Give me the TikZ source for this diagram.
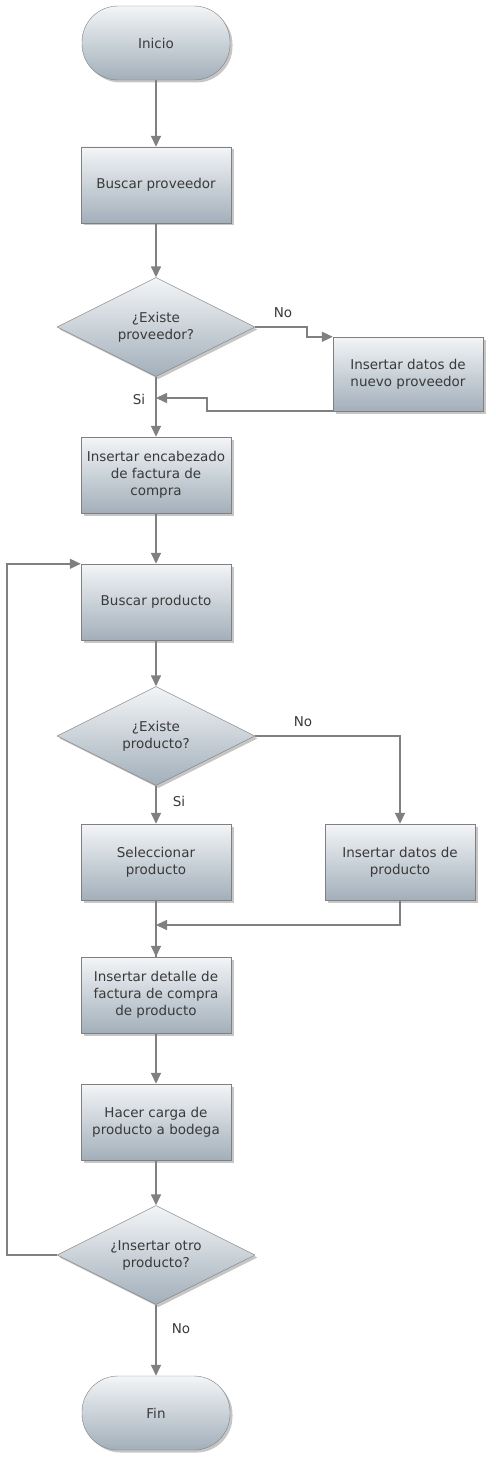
\documentclass[tikz,border=0pt]{standalone}
\usepackage{fontspec}
\setmainfont{DejaVu Sans}
\usetikzlibrary{shapes.geometric,arrows.meta,shadows}

\definecolor{topfill}{HTML}{F3F5F7}
\definecolor{botfill}{HTML}{A2AFBA}
\definecolor{edgegray}{HTML}{808080}
\definecolor{txtgray}{HTML}{3A3A3A}

\tikzstyle{base} = [draw=edgegray, thin, top color=topfill, bottom color=botfill,
    text=txtgray, align=center, font=\fontsize{13.5}{17}\selectfont,
    drop shadow={shadow xshift=2.5pt, shadow yshift=-2.5pt, opacity=0.45, fill=gray}]
\tikzstyle{term} = [base, rectangle, rounded corners=36pt, minimum width=148pt, minimum height=74pt]
\tikzstyle{proc} = [base, rectangle, minimum width=150pt, minimum height=76pt]
\tikzstyle{decide} = [base, diamond, aspect=2, inner sep=0pt, minimum width=198pt, minimum height=99pt]
\tikzstyle{line} = [draw=edgegray, line width=1.5pt, -{Triangle[length=11pt,width=10pt]}]
\tikzstyle{tag} = [text=txtgray, font=\fontsize{13.5}{17}\selectfont]

\begin{document}
\begin{tikzpicture}[x=1pt, y=-1pt]
\useasboundingbox (0,0) rectangle (495,1463);

% supplier part
\node[term] (inicio) at (156,43) {Inicio};
\node[proc] (buscarprov) at (156,185) {Buscar proveedor};
\node[decide] (existeprov) at (156,327) {¿Existe\\proveedor?};
\node[proc, minimum height=74pt] (nuevoprov) at (408,374) {Insertar datos de\\nuevo proveedor};
\node[proc] (encabezado) at (156,475) {Insertar encabezado\\de factura de\\compra};

% product part
\node[proc] (buscarprod) at (156,602) {Buscar producto};
\node[decide] (existeprod) at (156,736) {¿Existe\\producto?};
\node[proc] (seleccionar) at (156,862) {Seleccionar\\producto};
\node[proc] (datosprod) at (400,862) {Insertar datos de\\producto};
\node[proc] (detalle) at (156,995) {Insertar detalle de\\factura de compra\\de producto};
\node[proc] (carga) at (156,1122) {Hacer carga de\\producto a bodega};
\node[decide] (otro) at (156,1255) {¿Insertar otro\\producto?};
\node[term] (fin) at (156,1413) {Fin};

\coordinate (siprov) at (156,398);
\coordinate (juntar) at (156,925);

% connectors
\draw[line] (inicio) -- (buscarprov);
\draw[line] (buscarprov) -- (existeprov);
\draw[line] (existeprov.east) -- ++(52,0) |- (nuevoprov.north west);
\draw[line] (nuevoprov.south west) -- ++(-126,0) |- (siprov);
\draw[line] (existeprov) -- (encabezado);
\draw[line] (encabezado) -- (buscarprod);
\draw[line] (buscarprod) -- (existeprod);
\draw[line] (existeprod.east) -| (datosprod.north);
\draw[line] (existeprod) -- (seleccionar);
\draw[draw=edgegray, line width=1.5pt] (seleccionar) -- (detalle);
\draw[line] (juntar) -- (detalle);
\draw[line] (datosprod.south) |- (juntar);
\draw[line] (detalle) -- (carga);
\draw[line] (carga) -- (otro);
\draw[line] (otro.west) -- (7,1255) |- (buscarprod.north west);
\draw[line] (otro) -- (fin);

% labels
\node[tag] (noprov) at (283,313) {No};
\node[tag] (siprovtag) at (139,399) {Si};
\node[tag] (noprod) at (303,722) {No};
\node[tag] (siprod) at (179,801) {Si};
\node[tag] (nootro) at (181,1329) {No};
\end{tikzpicture}
\end{document}
